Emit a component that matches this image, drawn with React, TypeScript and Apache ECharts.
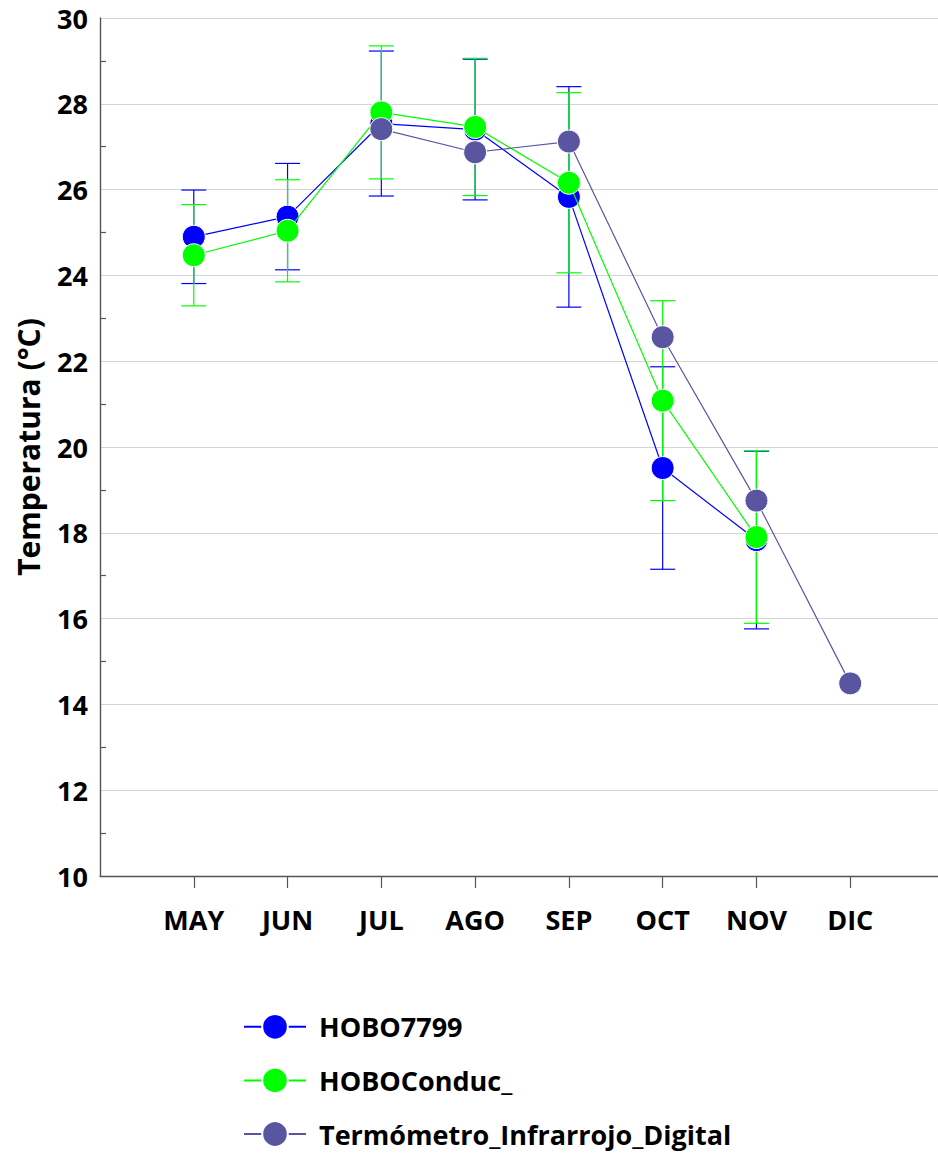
import React, { useEffect, useRef } from "react";
import * as echarts from "echarts";

const months = ["MAY", "JUN", "JUL", "AGO", "SEP", "OCT", "NOV", "DIC"];
const hobo7799 = [24.9, 25.37, 27.54, 27.4, 25.83, 19.51, 17.83, null];
const hobo7799Sd = [1.09, 1.24, 1.69, 1.64, 2.57, 2.36, 2.07, null];
const hoboConduc = [24.47, 25.04, 27.8, 27.46, 26.16, 21.08, 17.9, null];
const hoboConducSd = [1.18, 1.19, 1.55, 1.6, 2.1, 2.33, 2.01, null];
const termometro = [null, null, 27.41, 26.87, 27.12, 22.56, 18.75, 14.49];
const yTicks = { min: 10, max: 30, interval: 2 };

const BLUE = "#0000ff";
const GREEN = "#00ff00";
const PURPLE = "#5a55a0";
const FONT = "'Open Sans', 'DejaVu Sans', sans-serif";

const categories = ["", ...months, ""];
const pad = (arr: (number | null)[]) => [null, ...arr, null];

function errData(vals: (number | null)[], sd: (number | null)[]) {
  const out: any[] = [];
  vals.forEach((v, i) => {
    if (v != null && sd[i] != null) out.push([i + 1, v - (sd[i] as number), v + (sd[i] as number)]);
  });
  return out;
}

function errSeries(name: string, color: string, data: any[]) {
  return {
    type: "custom",
    name: name + "_err",
    data,
    z: 1,
    silent: true,
    encode: { x: 0, y: [1, 2] },
    renderItem: (params: any, api: any) => {
      const x = api.value(0);
      const lo = api.coord([x, api.value(1)]);
      const hi = api.coord([x, api.value(2)]);
      const hw = 12.5;
      const style = { stroke: color, lineWidth: 1.2, fill: null };
      return {
        type: "group",
        children: [
          { type: "line", shape: { x1: lo[0], y1: lo[1], x2: hi[0], y2: hi[1] }, style },
          { type: "line", shape: { x1: lo[0] - hw, y1: lo[1], x2: lo[0] + hw, y2: lo[1] }, style },
          { type: "line", shape: { x1: hi[0] - hw, y1: hi[1], x2: hi[0] + hw, y2: hi[1] }, style },
        ],
      };
    },
  };
}

function lineSeries(name: string, color: string, data: (number | null)[], z: number) {
  return {
    type: "line",
    name,
    data: pad(data),
    z,
    symbol: "circle",
    symbolSize: 23,
    connectNulls: false,
    lineStyle: { color, width: 1.2 },
    itemStyle: { color, borderColor: "#ffffff", borderWidth: 1 },
  };
}

export default function App() {
  const ref = useRef<HTMLDivElement>(null);
  useEffect(() => {
    if (!ref.current) return;
    const chart = echarts.init(ref.current, null, { renderer: "svg" });
    chart.setOption({
      animation: false,
      backgroundColor: "#ffffff",
      textStyle: { fontFamily: FONT },
      grid: {
        left: 100,
        right: 0,
        top: 18,
        bottom: 1155 - 876,
        containLabel: false,
        outerBoundsMode: "none",
      },
      xAxis: {
        type: "category",
        data: categories,
        boundaryGap: false,
        axisLine: { show: true, lineStyle: { color: "#555555", width: 1.4 } },
        axisTick: {
          show: true,
          length: 12,
          interval: (index: number) => index > 0 && index < categories.length - 1,
          lineStyle: { color: "#555555", width: 1.2 },
        },
        axisLabel: {
          interval: 0,
          margin: 30,
          color: "#000000",
          fontSize: 27,
          fontWeight: "bold",
          fontFamily: FONT,
        },
        splitLine: { show: false },
      },
      yAxis: {
        type: "value",
        min: yTicks.min,
        max: yTicks.max,
        interval: yTicks.interval,
        name: "Temperatura (°C)",
        nameLocation: "middle",
        nameRotate: 90,
        nameGap: 57,
        nameTextStyle: { color: "#000000", fontSize: 30, fontWeight: "bold", fontFamily: FONT },
        axisLine: { show: true, lineStyle: { color: "#555555", width: 1.4 } },
        axisTick: { show: false, inside: true },
        minorTick: { show: true, splitNumber: 2, length: 6, lineStyle: { color: "#555555", width: 1.2 } },
        axisLabel: {
          margin: 12,
          color: "#000000",
          fontSize: 27,
          fontWeight: "bold",
          fontFamily: FONT,
        },
        splitLine: { show: true, lineStyle: { color: "#d4d4d4", width: 1.2 } },
      },
      legend: {
        orient: "vertical",
        left: 238,
        top: 1008,
        itemWidth: 62,
        itemHeight: 32,
        itemGap: 26,
        data: ["HOBO7799", "HOBOConduc_", "Termómetro_Infrarrojo_Digital"],
        textStyle: { color: "#000000", fontSize: 27, fontWeight: "bold", fontFamily: FONT, padding: [0, 0, 0, 8] },
      },
      series: [
        errSeries("HOBO7799", BLUE, errData(hobo7799, hobo7799Sd)),
        errSeries("HOBOConduc_", GREEN, errData(hoboConduc, hoboConducSd)),
        lineSeries("HOBO7799", BLUE, hobo7799, 2),
        lineSeries("HOBOConduc_", GREEN, hoboConduc, 3),
        lineSeries("Termómetro_Infrarrojo_Digital", PURPLE, termometro, 4),
      ],
    });
    return () => chart.dispose();
  }, []);
  return (
    <div style={{ position: "absolute", left: 0, top: 0, width: 938, height: 1155, overflow: "hidden", background: "#fff" }}>
      <div ref={ref} style={{ width: 944, height: 1155 }} />
    </div>
  );
}
